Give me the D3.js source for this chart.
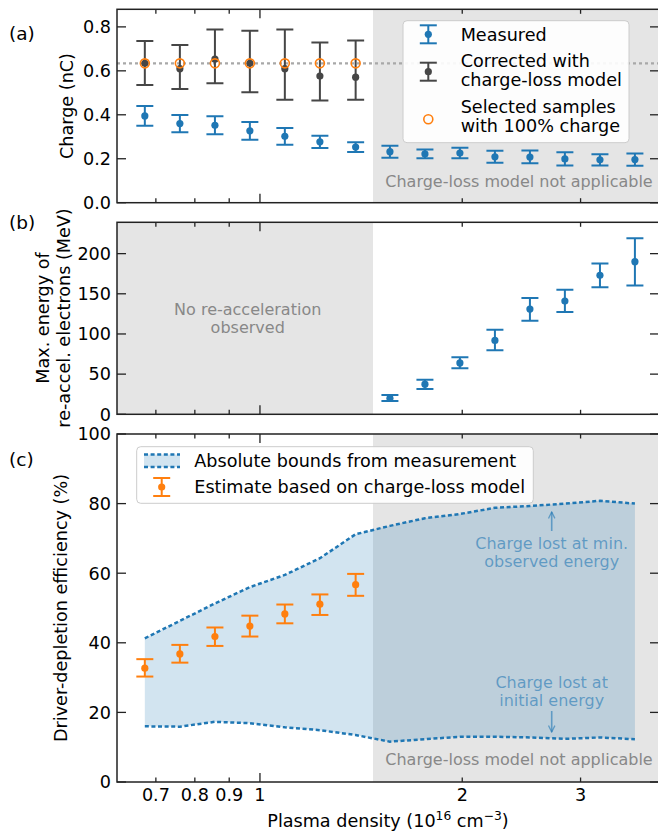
<!DOCTYPE html>
<html lang="en">
<head>
<meta charset="UTF-8">
<title>Charge, energy and depletion efficiency</title>
<script src="https://d3js.org/d3.v7.min.js"></script>
<style>
    body { margin: 0; background: #fff; }
    text { font-family: "DejaVu Sans", sans-serif; fill: #000; }
</style>
</head>
<body>
<script>
    // plasma density (1e16 cm^-3) of each sample
    const density = [0.674, 0.760, 0.857, 0.966, 1.089, 1.228, 1.388, 1.561,
                     1.760, 1.984, 2.237, 2.522, 2.843, 3.206, 3.614];

    // (a) charge
    const measCharge = [0.395, 0.360, 0.352, 0.327, 0.302, 0.277, 0.253, 0.232,
                        0.222, 0.226, 0.209, 0.208, 0.199, 0.195, 0.196];
    const measErr    = [0.045, 0.039, 0.041, 0.040, 0.038, 0.028, 0.022, 0.027,
                        0.020, 0.024, 0.027, 0.029, 0.030, 0.026, 0.028];
    const corrCharge = [0.634, 0.610, 0.653, 0.634, 0.610, 0.576, 0.571];
    const corrLow    = [0.536, 0.517, 0.543, 0.502, 0.468, 0.465, 0.468];
    const corrHigh   = [0.736, 0.718, 0.788, 0.782, 0.788, 0.729, 0.738];
    const fullCharge = 0.634;

    // (b) max energy of re-accelerated electrons, samples 8..15
    const energy     = [20, 37.5, 64, 92, 131, 141, 173, 190];
    const energyLow  = [16.6, 31.5, 57.2, 79.6, 116.4, 127.2, 158.3, 160.4];
    const energyHigh = [24, 43, 70.9, 105.2, 144.7, 155, 187.8, 219];

    // (c) driver-depletion efficiency (%)
    const boundUpper = [41.3, 46.3, 51.3, 56.0, 59.5, 64.3, 71.2, 73.6,
                        75.8, 77.0, 78.8, 79.3, 80.0, 80.8, 80.0];
    const boundLower = [16.0, 15.9, 17.3, 16.9, 15.7, 14.9, 13.5, 11.6,
                        12.3, 13.0, 13.0, 12.8, 12.4, 12.8, 12.3];
    const estimate     = [32.7, 36.8, 41.8, 44.8, 48.3, 51.1, 56.7];
    const estimateLow  = [30.3, 34.3, 39.1, 41.8, 45.6, 48.0, 53.5];
    const estimateHigh = [35.3, 39.4, 44.4, 47.8, 51.0, 53.9, 59.8];

    const limitDensity = 1.473;   // charge-loss model limit
    const xMajor = [1];
    const xMinor = [0.7, 0.8, 0.9, 2, 3];

    const blue = "#1f77b4", orange = "#ff7f0e", dark = "#464646";
    const shade = "#e5e5e5";
    const fs = 17.6;     // ticks, titles, legends
    const fsNote = 16;   // annotations

    const svg = d3.select("body").append("svg")
        .attr("width", 658).attr("height", 831);

    const x = d3.scaleLog().domain([0.6127, 3.925]).range([117, 659]);
    const yA = d3.scaleLinear().domain([0, 0.88]).range([202.7, 9.3]);
    const yB = d3.scaleLinear().domain([0, 239]).range([414.3, 222.3]);
    const yC = d3.scaleLinear().domain([0, 100]).range([782, 434]);

    const defs = svg.append("defs");
    defs.append("marker")
        .attr("id", "arrow")
        .attr("viewBox", "0 0 10 10")
        .attr("refX", 9).attr("refY", 5)
        .attr("markerWidth", 8).attr("markerHeight", 8)
        .attr("markerUnits", "userSpaceOnUse")
        .attr("orient", "auto")
        .append("path")
        .attr("d", "M 1 1 L 9 5 L 1 9")
        .attr("fill", "none")
        .attr("stroke", blue).attr("stroke-opacity", 0.6)
        .attr("stroke-width", 1.6);

    function makePanel(id, y) {
        const [x0, x1] = x.range();
        const [yb, yt] = y.range();
        defs.append("clipPath").attr("id", "clip-" + id)
            .append("rect").attr("x", x0).attr("y", yt)
            .attr("width", x1 - x0).attr("height", yb - yt);
        return svg.append("g").attr("clip-path", `url(#clip-${id})`);
    }

    function frame(y, ticks, fmt, showX) {
        const [x0, x1] = x.range();
        const [yb, yt] = y.range();
        const g = svg.append("g");
        const tk = (x1a, y1a, x2a, y2a) => g.append("line")
            .attr("x1", x1a).attr("y1", y1a).attr("x2", x2a).attr("y2", y2a)
            .attr("stroke", "#222").attr("stroke-width", 1.3);
        ticks.forEach(t => {
            tk(x0, y(t), x0 + 9, y(t));
            tk(x1, y(t), x1 - 9, y(t));
            g.append("text").attr("x", x0 - 6).attr("y", y(t))
                .attr("dy", "0.36em").attr("text-anchor", "end")
                .attr("font-size", fs).text(fmt(t));
        });
        xMajor.forEach(t => { tk(x(t), yb, x(t), yb - 9); tk(x(t), yt, x(t), yt + 9); });
        xMinor.forEach(t => { tk(x(t), yb, x(t), yb - 4.5); tk(x(t), yt, x(t), yt + 4.5); });
        if (showX) {
            xMajor.concat(xMinor).forEach(t => {
                g.append("text").attr("x", x(t)).attr("y", yb + 13)
                    .attr("dy", "0.36em").attr("text-anchor", "middle")
                    .attr("font-size", fs).text(d3.format("~g")(t));
            });
        }
        g.append("rect").attr("x", x0).attr("y", yt)
            .attr("width", x1 - x0).attr("height", yb - yt)
            .attr("fill", "none").attr("stroke", "#222").attr("stroke-width", 1.5);
    }

    function errorbar(g, xs, ys, lo, hi, color) {
        xs.forEach((d, i) => {
            const px = x(d);
            g.append("line").attr("x1", px).attr("x2", px)
                .attr("y1", lo[i]).attr("y2", hi[i])
                .attr("stroke", color).attr("stroke-width", 2);
            [lo[i], hi[i]].forEach(v => g.append("line")
                .attr("x1", px - 8.5).attr("x2", px + 8.5)
                .attr("y1", v).attr("y2", v)
                .attr("stroke", color).attr("stroke-width", 2));
            g.append("circle").attr("cx", px).attr("cy", ys[i])
                .attr("r", 3.6).attr("fill", color);
        });
    }

    function label(g, lines, cx, cy, color, size, step) {
        const t = g.append("text").attr("text-anchor", "middle")
            .attr("font-size", size).style("fill", color);
        lines.forEach((s, i) => t.append("tspan").attr("x", cx)
            .attr("y", cy + (i - (lines.length - 1) / 2) * step)
            .attr("dy", "0.36em").text(s));
        return t;
    }

    function yTitle(lines, cx, cy) {
        const t = svg.append("text").attr("text-anchor", "middle")
            .attr("font-size", fs)
            .attr("transform", `translate(${cx},${cy}) rotate(-90)`);
        lines.forEach((s, i) => t.append("tspan").attr("x", 0)
            .attr("y", (i - (lines.length - 1) / 2) * 20.5)
            .attr("dy", "0.36em").text(s));
    }

    // ---------- (a) ----------
    const gA = makePanel("a", yA);
    gA.append("rect").attr("x", x(limitDensity)).attr("y", yA.range()[1])
        .attr("width", 700).attr("height", 200).attr("fill", shade);
    gA.append("line").attr("x1", x.range()[0]).attr("x2", x.range()[1])
        .attr("y1", yA(fullCharge)).attr("y2", yA(fullCharge))
        .attr("stroke", "#a8a8a8").attr("stroke-width", 2.2)
        .attr("stroke-dasharray", "3,3");
    label(gA, ["Charge-loss model not applicable"], 519, 181, "#888", fsNote, 0);
    errorbar(gA, density, measCharge.map(yA),
        measCharge.map((v, i) => yA(v - measErr[i])),
        measCharge.map((v, i) => yA(v + measErr[i])), blue);
    const dCorr = density.slice(0, corrCharge.length);
    errorbar(gA, dCorr, corrCharge.map(yA), corrLow.map(yA), corrHigh.map(yA), dark);
    dCorr.forEach(d => gA.append("circle").attr("cx", x(d)).attr("cy", yA(fullCharge))
        .attr("r", 4.5).attr("fill", "none")
        .attr("stroke", orange).attr("stroke-width", 1.6));

    // legend (a)
    const lgA = svg.append("g");
    lgA.append("rect").attr("x", 403).attr("y", 20.7).attr("width", 226).attr("height", 122)
        .attr("rx", 4).attr("fill", "#fff").attr("fill-opacity", 0.9)
        .attr("stroke", "#ccc");
    function legendBar(g, cx, cy, color) {
        g.append("line").attr("x1", cx).attr("x2", cx).attr("y1", cy - 9).attr("y2", cy + 9)
            .attr("stroke", color).attr("stroke-width", 2);
        [cy - 9, cy + 9].forEach(v => g.append("line").attr("x1", cx - 8.5).attr("x2", cx + 8.5)
            .attr("y1", v).attr("y2", v).attr("stroke", color).attr("stroke-width", 2));
        g.append("circle").attr("cx", cx).attr("cy", cy).attr("r", 3.6).attr("fill", color);
    }
    legendBar(lgA, 428.3, 34.3, blue);
    legendBar(lgA, 428.3, 71.7, dark);
    lgA.append("circle").attr("cx", 428.3).attr("cy", 119.3).attr("r", 4.5)
        .attr("fill", "none").attr("stroke", orange).attr("stroke-width", 1.6);
    const legText = (g, lines, x0, cy) => lines.forEach((s, i) => g.append("text")
        .attr("x", x0).attr("y", cy + (i - (lines.length - 1) / 2) * 19.3)
        .attr("dy", "0.36em").attr("font-size", fs).text(s));
    legText(lgA, ["Measured"], 460.7, 34.3);
    legText(lgA, ["Corrected with", "charge-loss model"], 460.7, 70.5);
    legText(lgA, ["Selected samples", "with 100% charge"], 460.7, 116.3);

    frame(yA, [0, 0.2, 0.4, 0.6, 0.8], d3.format(".1f"), false);

    // ---------- (b) ----------
    const gB = makePanel("b", yB);
    gB.append("rect").attr("x", x.range()[0]).attr("y", yB.range()[1])
        .attr("width", x(limitDensity) - x.range()[0]).attr("height", 200).attr("fill", shade);
    label(gB, ["No re-acceleration", "observed"], 247.7, 318, "#888", fsNote, 17.7);
    const dE = density.slice(density.length - energy.length);
    errorbar(gB, dE, energy.map(yB), energyLow.map(yB), energyHigh.map(yB), blue);
    frame(yB, [0, 50, 100, 150, 200], d3.format("d"), false);

    // ---------- (c) ----------
    const gC = makePanel("c", yC);
    gC.append("rect").attr("x", x(limitDensity)).attr("y", yC.range()[1])
        .attr("width", 700).attr("height", 360).attr("fill", shade);
    const area = d3.area()
        .x((d, i) => x(density[i]))
        .y0((d, i) => yC(boundLower[i]))
        .y1(d => yC(d));
    gC.append("path").datum(boundUpper).attr("d", area)
        .attr("fill", blue).attr("fill-opacity", 0.2);
    [boundUpper, boundLower].forEach(arr => gC.append("path")
        .datum(arr)
        .attr("d", d3.line().x((d, i) => x(density[i])).y(d => yC(d)))
        .attr("fill", "none").attr("stroke", blue).attr("stroke-width", 2.5)
        .attr("stroke-dasharray", "4,2.6"));
    errorbar(gC, density.slice(0, estimate.length), estimate.map(yC),
        estimateLow.map(yC), estimateHigh.map(yC), orange);

    label(gC, ["Charge-loss model not applicable"], 519, 759, "#888", fsNote, 0);
    label(gC, ["Charge lost at min.", "observed energy"], 551.7, 552, blue, fsNote, 17.7)
        .style("fill-opacity", 0.6);
    label(gC, ["Charge lost at", "initial energy"], 551.7, 691, blue, fsNote, 18.3)
        .style("fill-opacity", 0.6);
    gC.append("line").attr("x1", 551.7).attr("x2", 551.7).attr("y1", 531).attr("y2", 512)
        .attr("stroke", blue).attr("stroke-opacity", 0.6).attr("stroke-width", 1.6)
        .attr("marker-end", "url(#arrow)");
    gC.append("line").attr("x1", 551.7).attr("x2", 551.7).attr("y1", 711).attr("y2", 732)
        .attr("stroke", blue).attr("stroke-opacity", 0.6).attr("stroke-width", 1.6)
        .attr("marker-end", "url(#arrow)");

    // legend (c)
    const lgC = svg.append("g");
    lgC.append("rect").attr("x", 136.7).attr("y", 446.7).attr("width", 396.6).attr("height", 56.6)
        .attr("rx", 4).attr("fill", "#fff").attr("fill-opacity", 0.9).attr("stroke", "#ccc");
    lgC.append("rect").attr("x", 144).attr("y", 454.5).attr("width", 36).attr("height", 12.5)
        .attr("fill", blue).attr("fill-opacity", 0.2);
    [454.5, 467].forEach(v => lgC.append("line").attr("x1", 144).attr("x2", 180)
        .attr("y1", v).attr("y2", v).attr("stroke", blue).attr("stroke-width", 2.5)
        .attr("stroke-dasharray", "4,2.6"));
    legendBar(lgC, 161.7, 487, orange);
    legText(lgC, ["Absolute bounds from measurement"], 194.3, 461);
    legText(lgC, ["Estimate based on charge-loss model"], 194.3, 486.7);

    frame(yC, [0, 20, 40, 60, 80, 100], d3.format("d"), true);

    // titles
    yTitle(["Charge (nC)"], 67, 106);
    yTitle(["Max. energy of", "re-accel. electrons (MeV)"], 53, 318);
    yTitle(["Driver-depletion efficiency (%)"], 61, 608);

    const xl = svg.append("text").attr("x", 388).attr("y", 827)
        .attr("text-anchor", "middle").attr("font-size", fs);
    xl.append("tspan").text("Plasma density (10");
    xl.append("tspan").attr("dy", -7).attr("font-size", fs * 0.7).text("16");
    xl.append("tspan").attr("dy", 7).text(" cm");
    xl.append("tspan").attr("dy", -7).attr("font-size", fs * 0.7).text("\u22123");
    xl.append("tspan").attr("dy", 7).text(")");

    [["(a)", 40], ["(b)", 229], ["(c)", 466]].forEach(([s, yy]) =>
        svg.append("text").attr("x", 9).attr("y", yy).attr("font-size", 18.5).text(s));
</script>
</body>
</html>
